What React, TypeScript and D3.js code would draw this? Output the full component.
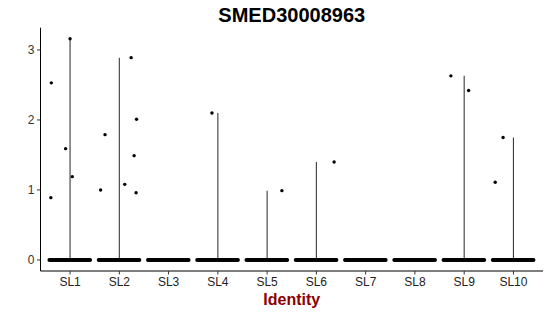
import React from "react";
import * as d3 from "d3";

const categories = ["SL1", "SL2", "SL3", "SL4", "SL5", "SL6", "SL7", "SL8", "SL9", "SL10"];
// maximum of the violin (expression range) per identity
const violinMax = [3.16, 2.89, 0, 2.1, 0.99, 1.4, 0, 0, 2.63, 1.75];
// non-zero cells: identity, expression value, horizontal jitter (fraction of band)
const pointCategory = ["SL1", "SL1", "SL1", "SL1", "SL1", "SL2", "SL2", "SL2", "SL2", "SL2", "SL2", "SL2", "SL4", "SL5", "SL6", "SL9", "SL9", "SL10", "SL10"];
const pointValue = [2.53, 0.89, 1.59, 1.19, 3.16, 1.0, 1.79, 1.08, 2.89, 1.49, 2.01, 0.96, 2.1, 0.99, 1.4, 2.63, 2.42, 1.75, 1.11];
const pointJitter = [-0.38, -0.39, -0.09, 0.045, 0.0, -0.38, -0.29, 0.11, 0.24, 0.3, 0.35, 0.34, -0.12, 0.3, 0.36, -0.27, 0.09, -0.21, -0.37];
const yTicks = [0, 1, 2, 3];
const zeroSpread = 0.42;

const W = 550;
const H = 316;
const left = 40.5;
const right = 543;
const top = 27.7;
const bottom = 271;

export default function App() {
  const yMax = d3.max(pointValue) as number;
  const pad = yMax * 0.05;
  const y = d3.scaleLinear().domain([-pad, yMax + pad]).range([bottom, top]);
  const x = d3
    .scalePoint<string>()
    .domain(categories)
    .range([left, right])
    .padding(0.6);
  const step = x.step();

  const zeroDots: { cx: number; key: string }[] = [];
  categories.forEach((c) => {
    const cx = x(c) as number;
    const half = zeroSpread * step;
    for (let dx = -half; dx <= half + 0.001; dx += 0.8) {
      zeroDots.push({ cx: cx + dx, key: c + dx });
    }
  });

  return (
    <svg width={W} height={H} style={{ position: "absolute", left: 0, top: 0 }} fontFamily="'Liberation Sans', Arial, sans-serif">
      <rect x={0} y={0} width={W} height={H} fill="white" />
      <text x={(left + right) / 2} y={22} textAnchor="middle" fontSize={20} fontWeight="bold" fill="#000">
        SMED30008963
      </text>
      {/* violins */}
      {categories.map((c, i) =>
        violinMax[i] > 0 ? (
          <line
            key={"v" + c}
            x1={x(c) as number}
            x2={x(c) as number}
            y1={y(0)}
            y2={y(violinMax[i])}
            stroke="#3a3a3a"
            strokeWidth={1.1}
          />
        ) : null
      )}
      {/* zero cells */}
      {zeroDots.map((d) => (
        <circle key={d.key} cx={d.cx} cy={y(0)} r={1.9} fill="#000" />
      ))}
      {/* non-zero cells */}
      {pointValue.map((v, i) => (
        <circle
          key={"p" + i}
          cx={(x(pointCategory[i]) as number) + pointJitter[i] * step}
          cy={y(v)}
          r={1.7}
          fill="#000"
        />
      ))}
      {/* axes */}
      <line x1={left} x2={left} y1={top} y2={bottom} stroke="#000" strokeWidth={1} />
      <line x1={left} x2={right} y1={bottom} y2={bottom} stroke="#000" strokeWidth={1} />
      {yTicks.map((t) => (
        <g key={"yt" + t}>
          <line x1={left - 3.5} x2={left} y1={y(t)} y2={y(t)} stroke="#333" />
          <text x={left - 6} y={y(t)} dy="0.35em" textAnchor="end" fontSize={12} fill="#333">
            {t}
          </text>
        </g>
      ))}
      {categories.map((c) => (
        <g key={"xt" + c}>
          <line x1={x(c) as number} x2={x(c) as number} y1={bottom} y2={bottom + 3.5} stroke="#333" />
          <text x={x(c) as number} y={286} textAnchor="middle" fontSize={12} fill="#222">
            {c}
          </text>
        </g>
      ))}
      <text x={(left + right) / 2} y={305} textAnchor="middle" fontSize={16} fontWeight="bold" fill="#8B0000">
        Identity
      </text>
    </svg>
  );
}
